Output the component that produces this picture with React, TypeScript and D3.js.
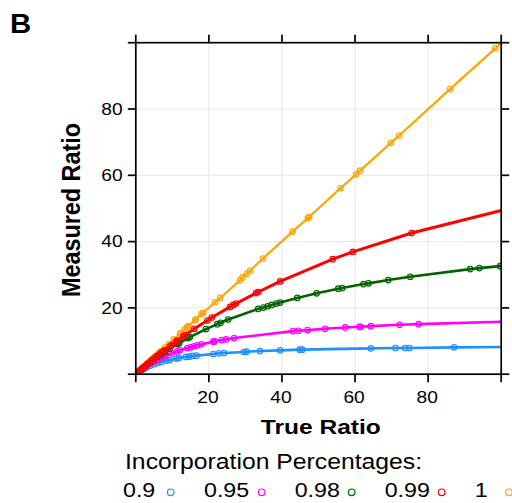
import * as d3 from 'd3';

const W = 512;
const H = 503;

// incorporation levels, colours follow the legend order
const levels = ['0.9', '0.95', '0.98', '0.99', '1'];
const colors = ['#1e90ff', '#ff00ff', '#006400', '#ff0000', '#ffa500'];

// true ratio / measured ratio, one pair of arrays per level
const x09 = [0, 0.5, 1, 1.5, 2, 2.5, 3, 4, 5, 6, 7, 8.4, 9.3, 11.1, 11.8, 13.7, 14.6, 15.5, 16.6, 21.2, 22.8, 24.2, 29.6, 30.3, 34, 39.5, 44.9, 45.6, 64.3, 71.1, 73.7, 74.9, 87.1];
const y09 = [0, 0.4, 0.8, 1.2, 1.5, 1.8, 2.1, 2.6, 3.0, 3.4, 3.7, 4.1, 4.3, 4.7, 4.9, 5.2, 5.3, 5.5, 5.6, 6.1, 6.3, 6.4, 6.7, 6.8, 7.0, 7.2, 7.4, 7.4, 7.8, 7.9, 7.9, 7.9, 8.1];

const x095 = [0, 0.5, 1, 1.5, 2, 3, 4, 5, 6, 7, 8, 9.8, 11.3, 12.1, 14.1, 15, 15.9, 16.8, 18, 21.2, 21.6, 23.5, 24.7, 26.9, 43, 44.5, 47, 51.8, 57.3, 61.2, 61.6, 64.3, 72.2, 77.4];
const y095 = [0, 0.5, 0.9, 1.3, 1.7, 2.5, 3.2, 3.8, 4.4, 4.9, 5.4, 6.3, 6.9, 7.2, 7.9, 8.1, 8.4, 8.7, 9.0, 9.8, 9.9, 10.3, 10.5, 10.9, 13.0, 13.1, 13.3, 13.7, 14.1, 14.3, 14.3, 14.5, 14.9, 15.1];

const x098 = [0, 0.5, 1, 1.5, 2, 3, 4, 5, 6, 7, 8, 9.3, 11.4, 11.9, 14.3, 14.8, 19.2, 22.3, 23.2, 25.3, 33.5, 34.9, 36.1, 37.2, 38.5, 39.5, 44.2, 49.5, 55.4, 56.5, 62.3, 63.7, 69.1, 75.1, 91.5, 94, 99.7];
const y098 = [0, 0.5, 1.0, 1.4, 1.9, 2.8, 3.6, 4.5, 5.3, 6.0, 6.8, 7.7, 9.1, 9.4, 10.9, 11.2, 13.6, 15.1, 15.5, 16.5, 19.7, 20.1, 20.5, 20.9, 21.3, 21.6, 23.0, 24.4, 25.8, 26.0, 27.2, 27.4, 28.4, 29.4, 31.7, 32.0, 32.6];

const x099 = [0, 0.3, 0.6, 1, 1.3, 1.6, 2, 2.4, 2.8, 3.2, 3.6, 4, 4.5, 5, 5.5, 6, 6.5, 7, 7.5, 8, 9.3, 9.8, 11, 11.3, 13, 13.4, 16, 19.6, 20.8, 25.8, 26.7, 27.4, 32.9, 33.5, 39.5, 53.9, 59.4, 75.5];
const y099 = [0, 0.3, 0.6, 1.0, 1.3, 1.6, 1.9, 2.3, 2.7, 3.1, 3.4, 3.8, 4.3, 4.7, 5.2, 5.6, 6.0, 6.5, 6.9, 7.3, 8.4, 8.8, 9.8, 10.1, 11.4, 11.7, 13.7, 16.2, 17.1, 20.3, 20.9, 21.3, 24.5, 24.8, 28.0, 34.7, 36.9, 42.6];

const x1 = [0, 0.5, 1, 1.5, 2, 2.5, 3, 3.5, 4, 4.5, 5, 5.5, 6, 6.5, 7, 8, 9, 10.4, 12.1, 12.3, 13.4, 14.1, 14.3, 16.2, 16.4, 18, 18.4, 21.7, 23.1, 28.5, 29.2, 30.4, 31.3, 34.8, 42.9, 47.1, 47.4, 56, 60.3, 61.4, 69.8, 72.1, 86, 98.4];
const y1 = [0, 0.5, 1, 1.5, 2, 2.5, 3, 3.5, 4, 4.5, 5, 5.5, 6, 6.5, 7, 8, 9, 10.5, 12.2, 12.4, 13.5, 14.2, 14.4, 16.3, 16.5, 18.2, 18.5, 21.7, 23.0, 28.3, 29.2, 30.3, 31.2, 34.9, 43.0, 47.1, 47.4, 56.1, 60.3, 61.4, 69.8, 72.0, 86.0, 98.3];

// where each fitted line meets the right edge (true ratio 100)
const lineEndY = [8.2, 15.8, 32.7, 49.4, 100];

const xTicks = [0, 20, 40, 60, 80, 100];
const yTicks = [0, 20, 40, 60, 80, 100];
const labelTicks = [20, 40, 60, 80];

const seriesX = [x09, x095, x098, x099, x1];
const seriesY = [y09, y095, y098, y099, y1];
const drawOrder = [0, 1, 2, 4, 3];
const lineWidths = [2.6, 2.6, 2.6, 3, 2.2];

const FONT = 'Liberation Sans, Arial, Helvetica, sans-serif';

function Txt({ x, y, size, sx = 1, sy = 1, rotate = 0, anchor = 'start', weight = 'normal', children }: any) {
  return (
    <g transform={`translate(${x},${y}) rotate(${rotate}) scale(${sx},${sy})`}>
      <text fontSize={size} textAnchor={anchor} fontWeight={weight} fontFamily={FONT} fill="#000">
        {children}
      </text>
    </g>
  );
}

export default function App() {
  const left = 135.8, right = 501.2, top = 42.7, bottom = 374.2;
  const x = d3.scaleLinear().domain([0, 100]).range([left, right]);
  const y = d3.scaleLinear().domain([0, 100]).range([bottom, top]);
  const tick = 8;

  const line = d3
    .line<[number, number]>()
    .x((d) => x(d[0]))
    .y((d) => y(d[1]));

  // legend layout (text start and marker centre)
  const legTextX = [123, 204, 294.7, 384.7, 474.8];
  const legDotX = [170.7, 261.7, 351.7, 441.7, 509];

  return (
    <svg width={W} height={H} style={{ position: 'absolute', left: 0, top: 0, background: '#fff' }}>
      <defs>
        <clipPath id="plot">
          <rect x={left} y={top} width={right - left} height={bottom - top} />
        </clipPath>
      </defs>

      <Txt x={10} y={33} size={28} sx={1.05} weight="bold">B</Txt>

      {/* grid */}
      {labelTicks.map((t) => (
        <g key={'g' + t}>
          <line x1={x(t)} x2={x(t)} y1={top} y2={bottom} stroke="#e6e6e6" strokeWidth={1} />
          <line x1={left} x2={right} y1={y(t)} y2={y(t)} stroke="#e6e6e6" strokeWidth={1} />
        </g>
      ))}

      {/* series */}
      <g clipPath="url(#plot)">
        {drawOrder.map((i) => {
          const pts: [number, number][] = seriesX[i].map((v, k) => [v, seriesY[i][k]]);
          const last = pts[pts.length - 1];
          const path = last[0] < 100 ? [...pts, [100, lineEndY[i]] as [number, number]] : pts;
          return (
            <g key={levels[i]}>
              <path d={line(path) || ''} fill="none" stroke={colors[i]} strokeWidth={lineWidths[i]} strokeLinejoin="round" />
              {pts.map((p, k) => (
                <circle
                  key={k}
                  cx={x(p[0])}
                  cy={y(p[1])}
                  r={2.8}
                  fill={colors[i]}
                  fillOpacity={0.25}
                  stroke={colors[i]}
                  strokeWidth={1.1}
                />
              ))}
            </g>
          );
        })}
      </g>

      {/* frame and ticks */}
      <rect x={left} y={top} width={right - left} height={bottom - top} fill="none" stroke="#000" strokeWidth={1.7} />
      {xTicks.map((t) => (
        <g key={'xt' + t} stroke="#000" strokeWidth={1.7}>
          <line x1={x(t)} x2={x(t)} y1={bottom} y2={bottom + tick} />
          <line x1={x(t)} x2={x(t)} y1={top} y2={top - tick} />
        </g>
      ))}
      {yTicks.map((t) => (
        <g key={'yt' + t} stroke="#000" strokeWidth={1.7}>
          <line x1={left} x2={left - tick} y1={y(t)} y2={y(t)} />
          <line x1={right} x2={right + tick} y1={y(t)} y2={y(t)} />
        </g>
      ))}

      {/* tick labels */}
      {labelTicks.map((t) => (
        <Txt key={'xl' + t} x={x(t) - 1} y={403.3} size={16} sx={1.2} anchor="middle">
          {t}
        </Txt>
      ))}
      {labelTicks.map((t) => (
        <Txt key={'yl' + t} x={122.7} y={y(t) + 5.6} size={16} sx={1.2} anchor="end">
          {t}
        </Txt>
      ))}

      {/* axis titles */}
      <Txt x={320.8} y={434.3} size={21} sx={1.17} anchor="middle" weight="bold">True Ratio</Txt>
      <Txt x={80} y={210} size={23.4} sy={1.09} rotate={-90} anchor="middle" weight="bold">Measured Ratio</Txt>

      {/* legend */}
      <Txt x={125} y={469.3} size={22.3} sx={1.11}>Incorporation Percentages:</Txt>
      {levels.map((lv, i) => (
        <g key={'lg' + lv}>
          <Txt x={legTextX[i]} y={497.3} size={19.5} sx={1.19}>{lv}</Txt>
          <circle cx={legDotX[i]} cy={492.3} r={3.3} fill="none" stroke={colors[i]} strokeWidth={1.2} />
        </g>
      ))}
    </svg>
  );
}
